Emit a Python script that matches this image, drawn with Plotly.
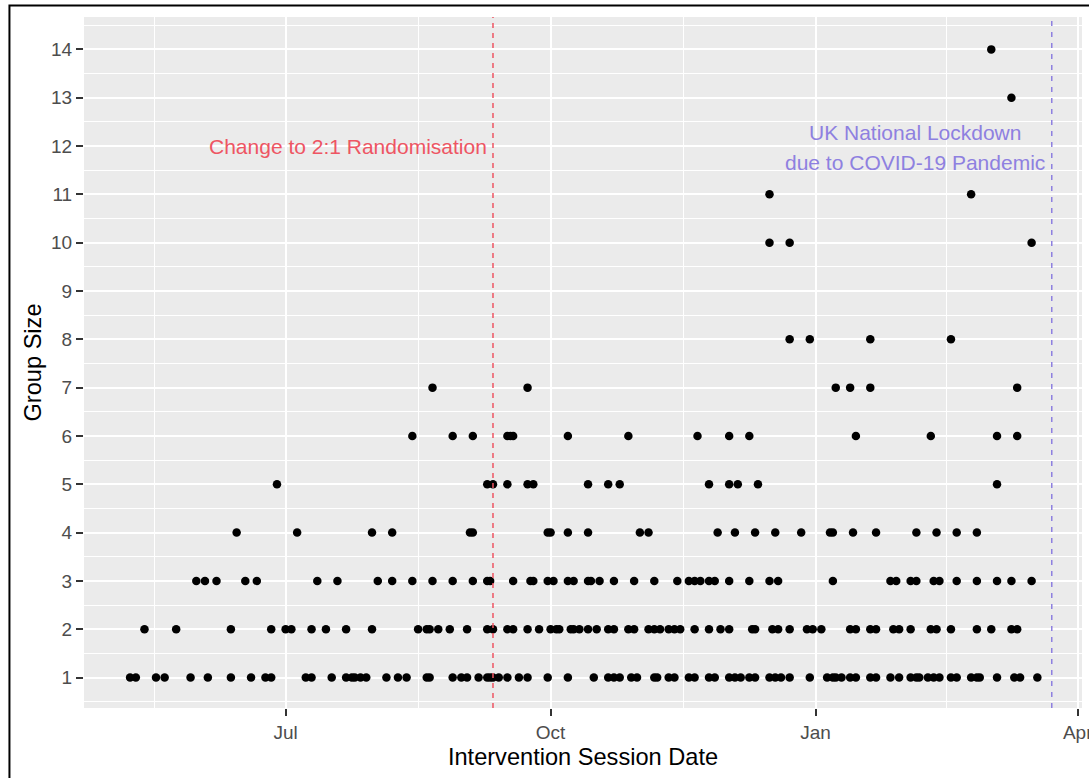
import plotly.graph_objects as go

# Session dates for each group size
size_1 = ['2019-05-08', '2019-05-10', '2019-05-17', '2019-05-20', '2019-05-29', '2019-06-04',
          '2019-06-12', '2019-06-19', '2019-06-24', '2019-06-26', '2019-07-08', '2019-07-10',
          '2019-07-17', '2019-07-22', '2019-07-24', '2019-07-25', '2019-07-27', '2019-07-29',
          '2019-08-05', '2019-08-09', '2019-08-12', '2019-08-19', '2019-08-20', '2019-08-28',
          '2019-08-31', '2019-09-02', '2019-09-06', '2019-09-09', '2019-09-10', '2019-09-11',
          '2019-09-13', '2019-09-16', '2019-09-20', '2019-09-23', '2019-09-30', '2019-10-07',
          '2019-10-16', '2019-10-21', '2019-10-23', '2019-10-25', '2019-10-29', '2019-10-31',
          '2019-11-06', '2019-11-07', '2019-11-11', '2019-11-13', '2019-11-18', '2019-11-20',
          '2019-11-25', '2019-11-27', '2019-12-02', '2019-12-04', '2019-12-06', '2019-12-09',
          '2019-12-11', '2019-12-16', '2019-12-18', '2019-12-20', '2019-12-23', '2019-12-30',
          '2020-01-05', '2020-01-07', '2020-01-08', '2020-01-10', '2020-01-13', '2020-01-15',
          '2020-01-20', '2020-01-22', '2020-01-27', '2020-01-30', '2020-02-03', '2020-02-05',
          '2020-02-06', '2020-02-09', '2020-02-11', '2020-02-13', '2020-02-17', '2020-02-19',
          '2020-02-24', '2020-02-26', '2020-02-27', '2020-03-04', '2020-03-10', '2020-03-12',
          '2020-03-18']
size_2 = ['2019-05-13', '2019-05-24', '2019-06-12', '2019-06-26', '2019-07-01', '2019-07-03',
          '2019-07-10', '2019-07-15', '2019-07-22', '2019-07-31', '2019-08-16', '2019-08-19',
          '2019-08-20', '2019-08-23', '2019-08-27', '2019-09-02', '2019-09-09', '2019-09-11',
          '2019-09-16', '2019-09-18', '2019-09-23', '2019-09-27', '2019-10-01', '2019-10-03',
          '2019-10-04', '2019-10-08', '2019-10-09', '2019-10-11', '2019-10-14', '2019-10-17',
          '2019-10-21', '2019-10-23', '2019-10-28', '2019-10-30', '2019-11-04', '2019-11-06',
          '2019-11-08', '2019-11-11', '2019-11-13', '2019-11-15', '2019-11-20', '2019-11-25',
          '2019-11-29', '2019-12-02', '2019-12-10', '2019-12-11', '2019-12-17', '2019-12-19',
          '2019-12-23', '2019-12-29', '2019-12-31', '2020-01-03', '2020-01-13', '2020-01-15',
          '2020-01-20', '2020-01-22', '2020-01-28', '2020-01-30', '2020-02-03', '2020-02-10',
          '2020-02-12', '2020-02-17', '2020-02-26', '2020-03-02', '2020-03-09', '2020-03-11']
size_3 = ['2019-05-31', '2019-06-03', '2019-06-07', '2019-06-17', '2019-06-21', '2019-07-12',
          '2019-07-19', '2019-08-02', '2019-08-07', '2019-08-14', '2019-08-21', '2019-08-28',
          '2019-09-04', '2019-09-09', '2019-09-10', '2019-09-18', '2019-09-24', '2019-09-25',
          '2019-09-30', '2019-10-02', '2019-10-07', '2019-10-09', '2019-10-14', '2019-10-15',
          '2019-10-18', '2019-10-23', '2019-10-30', '2019-11-06', '2019-11-14', '2019-11-18',
          '2019-11-20', '2019-11-22', '2019-11-25', '2019-11-27', '2019-12-02', '2019-12-09',
          '2019-12-16', '2019-12-19', '2020-01-07', '2020-01-27', '2020-01-29', '2020-02-03',
          '2020-02-05', '2020-02-11', '2020-02-13', '2020-02-19', '2020-02-26', '2020-03-04',
          '2020-03-09', '2020-03-16']
size_4 = ['2019-06-14', '2019-07-05', '2019-07-31', '2019-08-07', '2019-09-03', '2019-09-04',
          '2019-09-30', '2019-10-01', '2019-10-07', '2019-10-14', '2019-11-01', '2019-11-04',
          '2019-11-28', '2019-12-04', '2019-12-11', '2019-12-18', '2019-12-27', '2020-01-06',
          '2020-01-07', '2020-01-14', '2020-01-22', '2020-02-05', '2020-02-12', '2020-02-19',
          '2020-02-26']
size_5 = ['2019-06-28', '2019-09-09', '2019-09-11', '2019-09-16', '2019-09-23', '2019-09-25',
          '2019-10-14', '2019-10-21', '2019-10-25', '2019-11-25', '2019-12-02', '2019-12-05',
          '2019-12-12', '2020-03-04']
size_6 = ['2019-08-14', '2019-08-28', '2019-09-04', '2019-09-16', '2019-09-17', '2019-09-18',
          '2019-10-07', '2019-10-28', '2019-11-21', '2019-12-02', '2019-12-09', '2020-01-15',
          '2020-02-10', '2020-03-04', '2020-03-11']
size_7 = ['2019-08-21', '2019-09-23', '2020-01-08', '2020-01-13', '2020-01-20', '2020-03-11']
size_8 = ['2019-12-23', '2019-12-30', '2020-01-20', '2020-02-17']
size_10 = ['2019-12-16', '2019-12-23', '2020-03-16']
size_11 = ['2019-12-16', '2020-02-24']
size_13 = ['2020-03-09']
size_14 = ['2020-03-02']

randomisation_change = '2019-09-11'
lockdown = '2020-03-23'

x_tick_vals = ['2019-07-01', '2019-10-01', '2020-01-01', '2020-04-01']
x_tick_text = ['Jul', 'Oct', 'Jan', 'Apr']
x_minor_vals = ['2019-05-16 12:00', '2019-08-16', '2019-11-16', '2020-02-15 12:00']

groups = {1: size_1, 2: size_2, 3: size_3, 4: size_4, 5: size_5, 6: size_6, 7: size_7,
          8: size_8, 10: size_10, 11: size_11, 13: size_13, 14: size_14}
dates, sizes = [], []
for g, ds in groups.items():
    dates += ds
    sizes += [g] * len(ds)

red = '#EE5563'
purple = '#8E80E0'
font = 'Liberation Sans, Arial, sans-serif'

fig = go.Figure()
fig.add_trace(go.Scatter(
    x=dates, y=sizes, mode='markers',
    marker=dict(color='black', size=8.5, line=dict(width=0)),
    showlegend=False, hoverinfo='x+y'
))

fig.add_vline(x=randomisation_change, line=dict(color=red, width=1.5, dash='5px,5px'))
fig.add_vline(x=lockdown, line=dict(color=purple, width=1.5, dash='5px,6px'))

fig.add_annotation(x=randomisation_change, y=12, text='Change to 2:1 Randomisation',
                   xanchor='right', yanchor='middle', xshift=-4, showarrow=False,
                   font=dict(family=font, size=21, color=red))
fig.add_annotation(x='2020-02-04 12:00', y=12.29, text='UK National Lockdown',
                   xanchor='center', yanchor='middle', showarrow=False,
                   font=dict(family=font, size=21, color=purple))
fig.add_annotation(x='2020-02-04 12:00', y=11.65, text='due to COVID-19 Pandemic',
                   xanchor='center', yanchor='middle', showarrow=False,
                   font=dict(family=font, size=21, color=purple))

# black frame round the whole picture
fig.add_shape(type='rect', xref='paper', yref='paper',
              x0=-0.0747, x1=1.02, y0=-0.13, y1=1.0166,
              line=dict(color='black', width=2), fillcolor='rgba(0,0,0,0)', layer='above')

fig.update_layout(
    width=1089, height=778,
    paper_bgcolor='white',
    plot_bgcolor='#EBEBEB',
    margin=dict(l=84, r=7, t=17, b=70),
    font=dict(family=font, color='#4D4D4D'),
    xaxis=dict(
        range=['2019-04-22', '2020-04-02 12:00'],
        tickmode='array', tickvals=x_tick_vals, ticktext=x_tick_text,
        ticks='outside', ticklen=7, tickwidth=1.5, tickcolor='#333333',
        tickfont=dict(size=19, color='#4D4D4D'), ticklabeloverflow='allow',
        showgrid=True, gridcolor='white', gridwidth=2,
        minor=dict(tickmode='array', tickvals=x_minor_vals, showgrid=True,
                   gridcolor='white', gridwidth=1, ticks=''),
        zeroline=False, showline=False, automargin=False,
        title=dict(text='Intervention Session Date', font=dict(size=23.6, color='black'), standoff=6),
    ),
    yaxis=dict(
        range=[0.37, 14.67],
        tickmode='linear', tick0=1, dtick=1,
        ticks='outside', ticklen=7, tickwidth=1.5, tickcolor='#333333',
        tickfont=dict(size=19, color='#4D4D4D'),
        showgrid=True, gridcolor='white', gridwidth=2,
        minor=dict(tick0=0.5, dtick=0.5, showgrid=True, gridcolor='white', gridwidth=1, ticks=''),
        zeroline=False, showline=False, automargin=False,
        title=dict(text='Group Size', font=dict(size=23.6, color='black'), standoff=2),
    ),
)

# drop the default page margin so the figure sits at the window's top-left corner
fig.write_html('out.html', config={'displayModeBar': False},
               post_script="document.body.style.margin='0';")
